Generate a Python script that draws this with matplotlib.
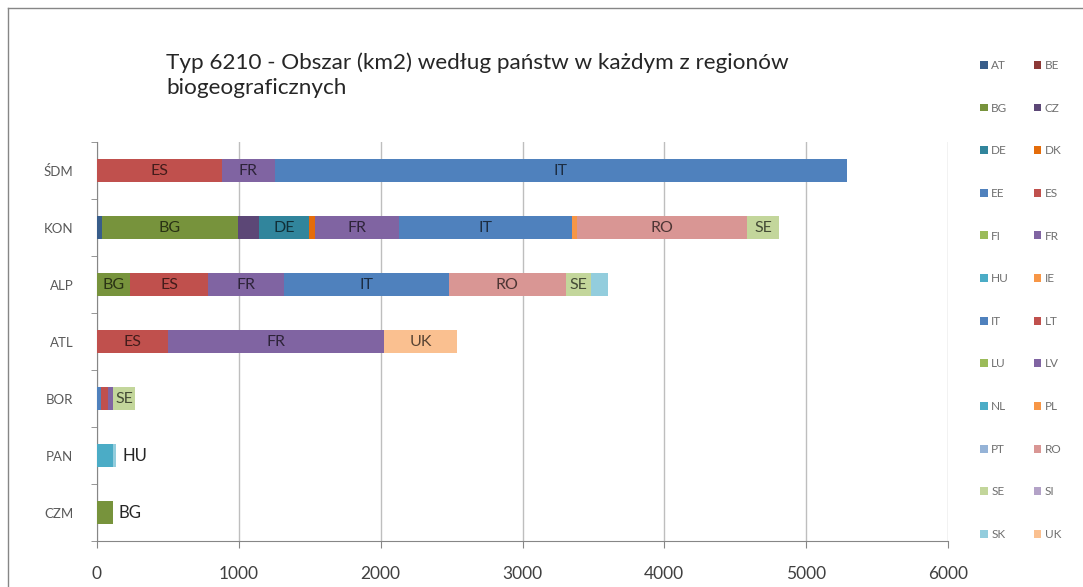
import numpy as np
import matplotlib
matplotlib.use("Agg")
import matplotlib.pyplot as plt
from matplotlib.patches import Patch
from matplotlib.lines import Line2D
import matplotlib.colors as mcolors

plt.rcParams['font.family'] = ['Lato', 'DejaVu Sans']

# regiony od góry do dołu
regions = ['ŚDM', 'KON', 'ALP', 'ATL', 'BOR', 'PAN', 'CZM']

# powierzchnia (km2) dla każdego państwa w kolejnych regionach
AT = [0, 35, 0, 0, 0, 0, 0]
BE = [0, 0, 0, 0, 0, 0, 0]
BG = [0, 960, 235, 0, 0, 0, 110]
CZ = [0, 145, 0, 0, 0, 0, 0]
DE = [0, 355, 0, 0, 0, 0, 0]
DK = [0, 40, 0, 0, 0, 0, 0]
EE = [0, 0, 0, 0, 25, 0, 0]
ES = [880, 0, 545, 500, 0, 0, 0]
FI = [0, 0, 0, 0, 0, 0, 0]
FR = [376, 595, 535, 1525, 0, 0, 0]
HU = [0, 0, 0, 0, 0, 115, 0]
IE = [0, 0, 0, 0, 0, 0, 0]
IT = [4030, 1220, 1165, 0, 0, 0, 0]
LT = [0, 0, 0, 0, 55, 0, 0]
LU = [0, 0, 0, 0, 0, 0, 0]
LV = [0, 0, 0, 0, 35, 0, 0]
NL = [0, 0, 0, 0, 0, 0, 0]
PL = [0, 35, 0, 0, 0, 0, 0]
PT = [0, 0, 0, 0, 0, 0, 0]
RO = [0, 1200, 825, 0, 0, 0, 0]
SE = [0, 225, 175, 0, 155, 0, 0]
SI = [0, 0, 0, 0, 0, 0, 0]
SK = [0, 0, 120, 0, 0, 20, 0]
UK = [0, 0, 0, 515, 0, 0, 0]

countries = ['AT', 'BE', 'BG', 'CZ', 'DE', 'DK', 'EE', 'ES', 'FI', 'FR', 'HU', 'IE',
             'IT', 'LT', 'LU', 'LV', 'NL', 'PL', 'PT', 'RO', 'SE', 'SI', 'SK', 'UK']
values = [AT, BE, BG, CZ, DE, DK, EE, ES, FI, FR, HU, IE,
          IT, LT, LU, LV, NL, PL, PT, RO, SE, SI, SK, UK]
colors = ['#385D8A', '#8C3836', '#77933C', '#5C4776', '#31859C', '#E46C0A',
          '#4F81BD', '#C0504D', '#9BBB59', '#8064A2', '#4BACC6', '#F79646',
          '#4F81BD', '#C0504D', '#9BBB59', '#8064A2', '#4BACC6', '#F79646',
          '#95B3D7', '#D99694', '#C3D69B', '#B3A2C7', '#93CDDD', '#FAC090']

fig = plt.figure(figsize=(10.83, 5.87), dpi=100)
ax = fig.add_axes([97 / 1083, 46 / 587, (948 - 97) / 1083, (541 - 142) / 587])

y = np.arange(len(regions))
left = np.zeros(len(regions))
arr = np.array(values, dtype=float)
totals = arr.sum(axis=0)
biggest = arr.argmax(axis=0)
for k, (name, col) in enumerate(zip(countries, colors)):
    vals = arr[k]
    ax.barh(y, vals, left=left, height=0.39, color=col, edgecolor='none', zorder=3)
    dark = tuple(c * 0.35 for c in mcolors.to_rgb(col))
    for i, v in enumerate(vals):
        if v <= 0:
            continue
        if totals[i] < 200:
            if biggest[i] == k:
                ax.text(totals[i] + 45, y[i], name, ha='left', va='center',
                        fontsize=12, color='#262626', zorder=4)
        elif v >= 150:
            ax.text(left[i] + v / 2, y[i], name, ha='center', va='center',
                    fontsize=11.5, color=dark, zorder=4)
    left += vals

ax.set_xlim(0, 6000)
ax.set_ylim(len(regions) - 0.5, -0.5)
ax.set_xticks(np.arange(0, 6001, 1000))
ax.set_yticks(y)
ax.set_yticklabels(regions)
ax.set_yticks(np.arange(-0.5, len(regions), 1), minor=True)
ax.tick_params(axis='y', which='major', length=0, pad=17, labelsize=9.5, labelcolor='#595959')
ax.tick_params(axis='y', which='minor', length=4, color='#868686')
ax.tick_params(axis='x', length=5, color='#868686', pad=13, labelsize=12.5, labelcolor='#404040')
ax.grid(axis='x', color='#BEBEBE', lw=1, zorder=0)
for s in ['top', 'right']:
    ax.spines[s].set_visible(False)
for s in ['left', 'bottom']:
    ax.spines[s].set_color('#868686')

fig.text(166 / 1083, 1 - 75 / 587, 'Typ 6210 - Obszar (km2) według państw w każdym z regionów\nbiogeograficznych',
         ha='left', va='center', fontsize=16.2, color='#262626', linespacing=1.3)

# legenda: wiersz po wierszu, dwie kolumny
order = list(range(0, 24, 2)) + list(range(1, 24, 2))
handles = [Patch(facecolor=colors[k], edgecolor='none') for k in order]
labels = [countries[k] for k in order]
fig.legend(handles, labels, ncol=2, loc='upper left', bbox_to_anchor=(980 / 1083, 1 - 60 / 587),
           frameon=False, fontsize=8.5, labelcolor='#6F6F6F', handlelength=0.65, handleheight=0.65,
           handletextpad=0.3, columnspacing=2.1, labelspacing=2.68, borderaxespad=0, borderpad=0)

# ramka wykresu
fig.add_artist(Line2D([8 / 1083, 8 / 1083], [0, 1 - 8 / 587], color='#868686', lw=1))
fig.add_artist(Line2D([8 / 1083, 1], [1 - 8 / 587, 1 - 8 / 587], color='#868686', lw=1))

fig.savefig('out.png', dpi=100)
